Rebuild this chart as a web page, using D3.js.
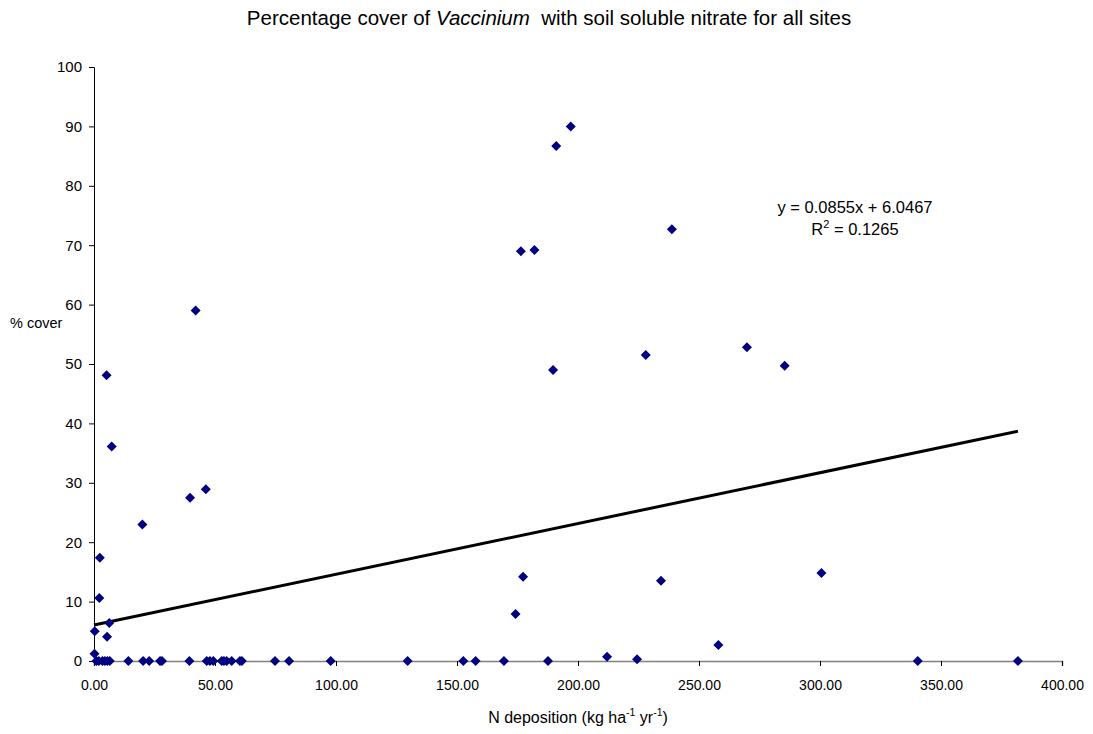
<!DOCTYPE html>
<html>
<head>
<meta charset="utf-8">
<script src="https://cdn.jsdelivr.net/npm/d3@7"></script>
<style>
  body { margin: 0; background: #fff; }
  text { font-family: "Liberation Sans", Arial, sans-serif; fill: #000; }
</style>
</head>
<body>
<div id="chart"></div>
<script>
// N deposition (x) and % cover (y)
var nDeposition = [
  0.2, 0.3, 2.4, 2.2, 5.2, 7.3, 6.3, 5.4, 20.0, 39.7, 42.0, 46.2,
  176.4, 182.0, 191.0, 197.0, 189.7, 177.3, 174.2, 228.0, 234.3, 238.8,
  269.8, 285.4, 300.6, 258.0, 212.0, 224.4,
  1.0, 2.0, 3.5, 4.5, 5.5, 6.5, 14.2, 20.3, 22.8, 27.3, 28.1, 39.4,
  46.6, 47.9, 49.3, 52.8, 53.7, 54.8, 56.9, 60.3, 61.1, 74.8, 80.6, 97.8,
  129.6, 152.6, 157.7, 169.4, 187.6, 340.4, 381.8
];
var cover = [
  1.2, 5.0, 17.4, 10.6, 48.1, 36.1, 6.4, 4.1, 23.0, 27.5, 59.0, 28.9,
  69.0, 69.2, 86.7, 90.0, 49.0, 14.2, 7.9, 51.5, 13.5, 72.7,
  52.8, 49.7, 14.8, 2.7, 0.7, 0.3,
  0, 0, 0, 0, 0, 0, 0, 0, 0, 0, 0, 0,
  0, 0, 0, 0, 0, 0, 0, 0, 0, 0, 0, 0,
  0, 0, 0, 0, 0, 0, 0
];
var xTicks = [0, 50, 100, 150, 200, 250, 300, 350, 400];
var yTicks = [0, 10, 20, 30, 40, 50, 60, 70, 80, 90, 100];
var slope = 0.0855, intercept = 6.0467, rSquared = 0.1265;

var width = 1093, height = 734;
var margin = { top: 67, right: 31, bottom: 73, left: 94 };
var w = width - margin.left - margin.right,
    h = height - margin.top - margin.bottom;

var data = nDeposition.map(function(d, i) { return { x: d, y: cover[i] }; });

var x = d3.scaleLinear().domain([0, 400]).range([0, w]);
var y = d3.scaleLinear().domain([0, 100]).range([h, 0]);

var svg = d3.select("#chart").append("svg")
    .attr("width", width)
    .attr("height", height);

var g = svg.append("g")
    .attr("transform", "translate(" + margin.left + "," + margin.top + ")");

// axes
var xAxis = d3.axisBottom(x).tickValues(xTicks).tickSize(5).tickPadding(14)
    .tickFormat(d3.format(".2f"));
var yAxis = d3.axisLeft(y).tickValues(yTicks).tickSize(5).tickPadding(7);

var gx = g.append("g")
    .attr("transform", "translate(0," + h + ")")
    .call(xAxis);
gx.select(".domain").attr("stroke", "#808080").attr("stroke-width", 1.5);
gx.selectAll(".tick line").attr("stroke", "#000");
gx.selectAll("text").style("font-size", "14px");

var gy = g.append("g").call(yAxis);
gy.select(".domain").attr("stroke", "#000");
gy.selectAll("text").style("font-size", "15px");

// trendline
var xMax = d3.max(nDeposition);
g.append("line")
    .attr("x1", x(0)).attr("y1", y(intercept))
    .attr("x2", x(xMax)).attr("y2", y(slope * xMax + intercept))
    .attr("stroke", "#000")
    .attr("stroke-width", 3);

// points: square diamonds
var marker = d3.symbol().type(d3.symbolSquare).size(50);
g.selectAll(".dot")
    .data(data)
    .enter().append("path")
    .attr("class", "dot")
    .attr("d", marker)
    .attr("transform", function(d) { return "translate(" + x(d.x) + "," + y(d.y) + ") rotate(45)"; })
    .attr("fill", "#000080");

// title
var title = svg.append("text")
    .attr("x", 549).attr("y", 25)
    .attr("text-anchor", "middle")
    .style("white-space", "pre")
    .style("font-size", "20.5px");
title.append("tspan").text("Percentage cover of ");
title.append("tspan").style("font-style", "italic").text("Vaccinium");
title.append("tspan").text("  with soil soluble nitrate for all sites");

// y label
svg.append("text")
    .attr("x", 10).attr("y", 328)
    .style("font-size", "14.5px")
    .text("% cover");

// x label
var xl = svg.append("text")
    .attr("x", 578).attr("y", 723)
    .attr("text-anchor", "middle")
    .style("font-size", "16px");
xl.append("tspan").text("N deposition (kg ha");
xl.append("tspan").attr("dy", -7).style("font-size", "10.5px").text("-1");
xl.append("tspan").attr("dy", 7).text(" yr");
xl.append("tspan").attr("dy", -7).style("font-size", "10.5px").text("-1");
xl.append("tspan").attr("dy", 7).text(")");

// equation
svg.append("text")
    .attr("x", 855).attr("y", 213)
    .attr("text-anchor", "middle")
    .style("font-size", "16.5px")
    .text("y = " + slope + "x + " + intercept);
var r2 = svg.append("text")
    .attr("x", 855).attr("y", 235)
    .attr("text-anchor", "middle")
    .style("font-size", "16.5px");
r2.append("tspan").text("R");
r2.append("tspan").attr("dy", -7).style("font-size", "11px").text("2");
r2.append("tspan").attr("dy", 7).text(" = " + rSquared);
</script>
</body>
</html>
